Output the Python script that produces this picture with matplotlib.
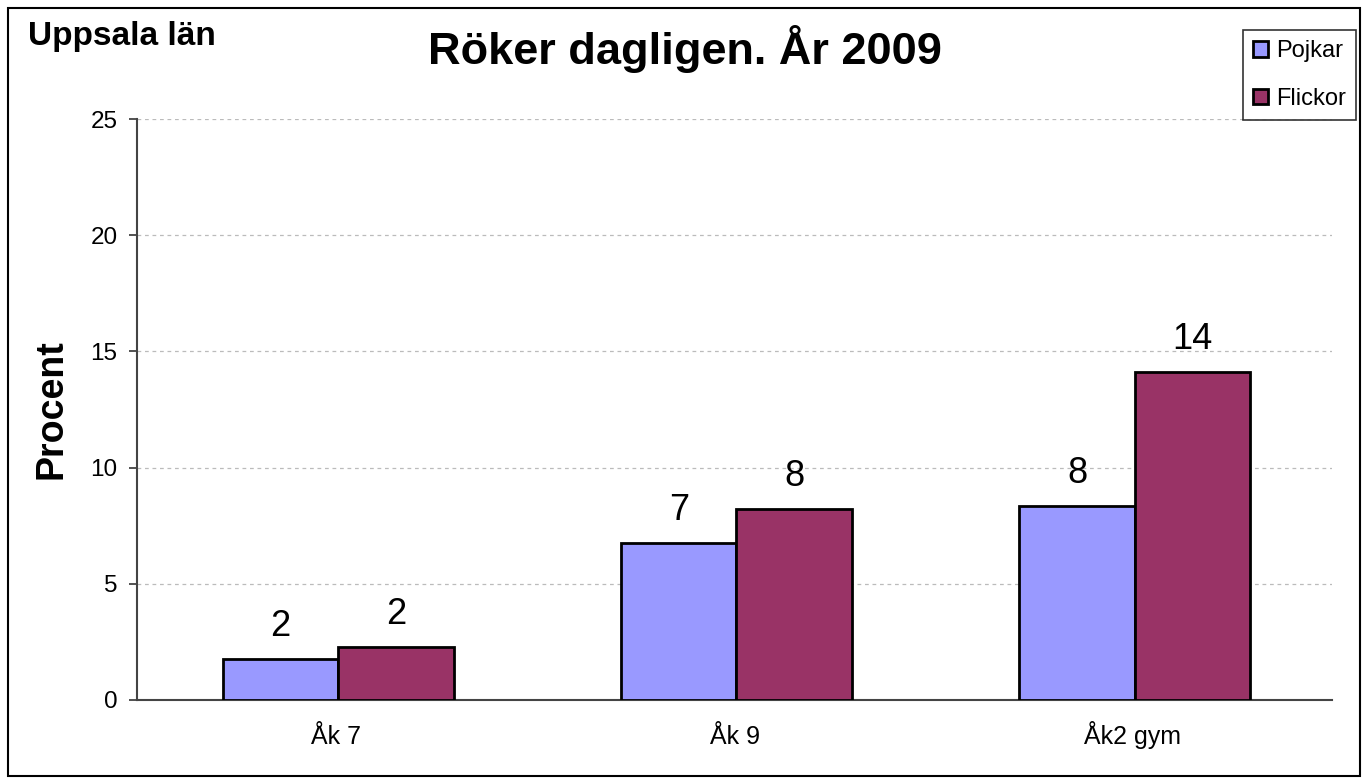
import matplotlib
matplotlib.use("Agg")
import matplotlib.pyplot as plt
import numpy as np
from matplotlib.patches import Rectangle

plt.rcParams['font.family'] = ['Liberation Sans', 'DejaVu Sans']

categories = ["Åk 7", "Åk 9", "Åk2 gym"]
pojkar = [1.76, 6.76, 8.35]
flickor = [2.28, 8.22, 14.11]
pojkar_labels = ["2", "7", "8"]
flickor_labels = ["2", "8", "14"]
yticks = [0, 5, 10, 15, 20, 25]

fig = plt.figure(figsize=(13.68, 7.82), dpi=100)
ax = fig.add_axes([137/1368, 1-700/782, (1332-137)/1368, (700-119)/782])

x = np.arange(len(categories))
w = 0.29
b1 = ax.bar(x - w/2 + 0.005, pojkar, w, color="#9999FF", edgecolor="black", linewidth=2, label="Pojkar", zorder=3)
b2 = ax.bar(x + w/2 + 0.005, flickor, w, color="#993366", edgecolor="black", linewidth=2, label="Flickor", zorder=3)

for rects, labs in ((b1, pojkar_labels), (b2, flickor_labels)):
    for r, l in zip(rects, labs):
        ax.annotate(l, (r.get_x() + r.get_width()/2, r.get_height()),
                    xytext=(0, 11), textcoords="offset points",
                    ha="center", va="bottom", fontsize=26)

ax.set_xlim(-0.5, 2.5)
ax.set_ylim(0, 25)
ax.set_yticks(yticks)
ax.set_xticks(x)
ax.set_xticklabels(categories, fontsize=18)
ax.tick_params(axis="x", length=0, pad=32)
for lbl in ax.get_xticklabels():
    lbl.set_verticalalignment("baseline")
ax.tick_params(axis="y", labelsize=17.5, length=6, width=1.2, color="#333333", direction="out", pad=8)
ax.yaxis.grid(True, linestyle=(0, (3, 3)), color="#BBBBBB", linewidth=0.9, zorder=0)
ax.set_axisbelow(True)
for s in ("top", "right"):
    ax.spines[s].set_visible(False)
for s in ("left", "bottom"):
    ax.spines[s].set_color("#444444")
    ax.spines[s].set_linewidth(1.5)

ax.set_ylabel("Procent", fontsize=27, fontweight="bold", labelpad=15)

fig.text(428/1368, 1-49/782, "Röker dagligen. År 2009", fontsize=32.5, fontweight="bold",
         ha="left", va="center")
fig.text(28/1368, 1-36/782, "Uppsala län", fontsize=24, fontweight="bold",
         ha="left", va="center")

leg = ax.legend(loc="upper left", bbox_to_anchor=(1243/1368, 1-30/782), bbox_transform=fig.transFigure,
                fontsize=17, frameon=True, fancybox=False, edgecolor="black",
                handlelength=0.65, handleheight=0.65, handletextpad=0.35, borderpad=0.42,
                labelspacing=1.1, borderaxespad=0)
leg.get_frame().set_linewidth(1.2)

fig.patches.append(Rectangle((8/1368, 1-776/782), (1360-8)/1368, (776-8)/782,
                             transform=fig.transFigure, fill=False, edgecolor="black", linewidth=1.5))

fig.savefig("out.png", dpi=100)
